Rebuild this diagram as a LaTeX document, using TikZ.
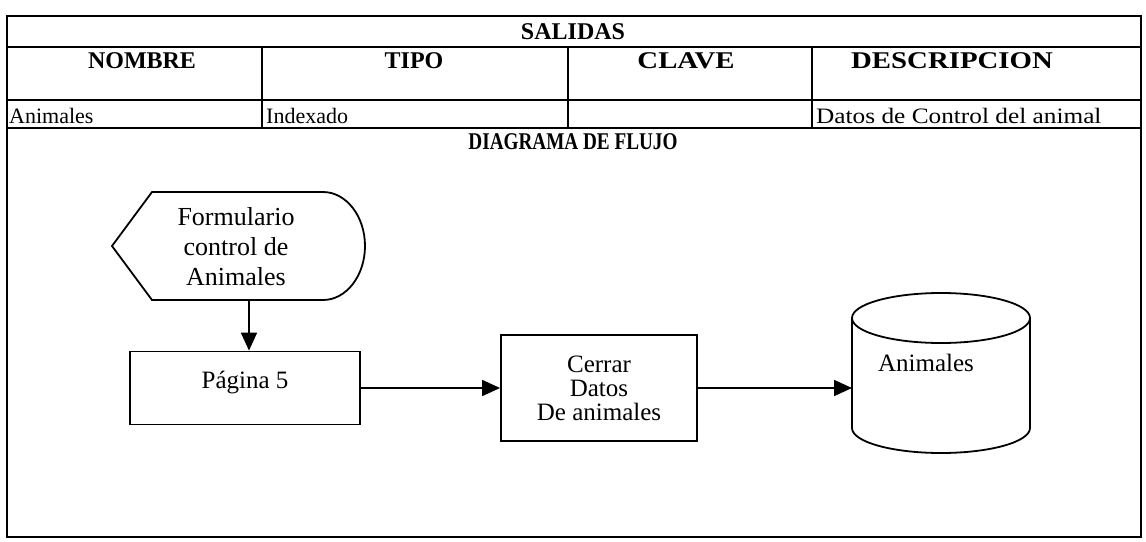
\documentclass[tikz,border=0pt]{standalone}
\usepackage{fontspec}
\setmainfont{Liberation Serif}
\usetikzlibrary{arrows.meta}
\begin{document}
\begin{tikzpicture}[x=1pt,y=-1pt,
  tline/.style={line width=1.3pt},
  sline/.style={line width=1.8pt},
  hdr/.style={font=\fontsize{24}{28}\selectfont\bfseries, anchor=base, inner sep=0pt},
  dat/.style={font=\fontsize{22}{26}\selectfont, anchor=base west, inner sep=0pt},
  flt/.style={font=\fontsize{25}{24}\selectfont, align=center, inner sep=0pt},
  arr/.style={line width=1.8pt, -{Triangle[length=18pt,width=16pt]}},
  boxs/.style={draw, line width=1.8pt, rectangle, inner sep=0pt},
]
\useasboundingbox (0,0) rectangle (1146,541);
% table frame
\draw[tline] (7,16) rectangle (1141,537);
\draw[tline] (7,47) -- (1141,47);
\draw[tline] (7,100) -- (1141,100);
\draw[tline] (7,128) -- (1141,128);
\foreach \x in {262,568,812} \draw[tline] (\x,47) -- (\x,128);
% table texts
\node[hdr] (sal) at (573,39) {SALIDAS};
\node[hdr] (hnom) at (142,68) {NOMBRE};
\node[hdr] (htip) at (414,68) {TIPO};
\node[hdr] (hcla) at (686,68) {\scalebox{1.2}[1]{CLAVE}};
\node[hdr] (hdes) at (952,68) {\scalebox{1.2}[1]{DESCRIPCION}};
\node[dat] (dnom) at (9,123) {Animales};
\node[dat] (dtip) at (266,123) {Indexado};
\node[dat] (ddes) at (816,123) {\scalebox{1.15}[1]{Datos de Control del animal}};
\node[hdr] (titl) at (573,149) {\scalebox{0.8}[1]{DIAGRAMA DE FLUJO}};
% display shape
\draw[sline] (112,246) -- (152,192) -- (323,192)
  arc[start angle=-90, end angle=90, x radius=42, y radius=54] -- (152,300) -- cycle;
\node[flt, font=\fontsize{26}{30}\selectfont] (form) at (236,247) {Formulario\\control de\\Animales};
\coordinate (fb) at (249,300);
% boxes
\node[boxs, minimum width=230pt, minimum height=73pt] (pag) at (245,388) {};
\node[flt] (pagt) at (245,383) {Página 5};
\node[boxs, flt, minimum width=196pt, minimum height=106pt] (cer) at (599,388) {Cerrar\\Datos\\De animales};
% cylinder
\draw[sline] (852,318) -- (852,428) arc[start angle=180, end angle=0, x radius=89, y radius=25] -- (1030,318);
\draw[sline] (941,318) ellipse[x radius=89, y radius=25];
\node[flt] (cylt) at (926,363) {Animales};
\coordinate (cylw) at (852,388);
% arrows
\draw[arr] (fb) -- (fb |- pag.north);
\draw[arr] (pag.east) -- (cer.west);
\draw[arr] (cer.east) -- (cylw);
\end{tikzpicture}
\end{document}
